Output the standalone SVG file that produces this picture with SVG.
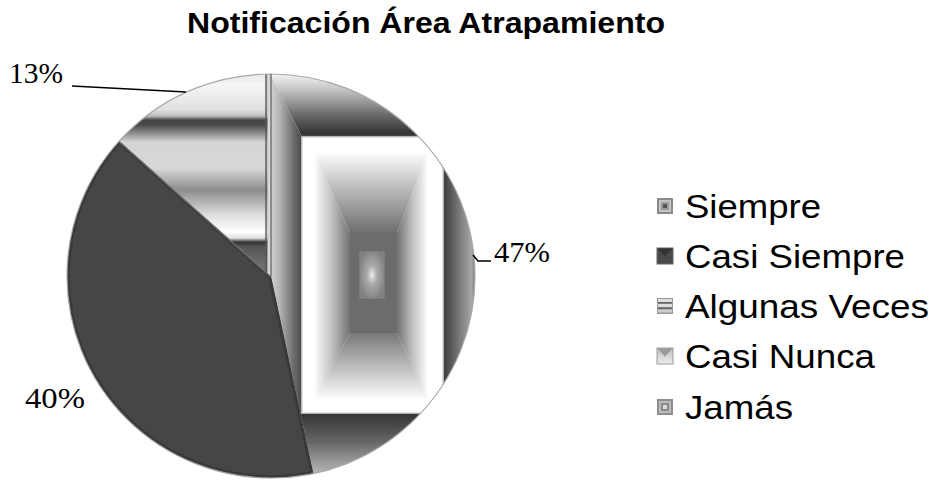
<svg xmlns="http://www.w3.org/2000/svg" width="937" height="481" viewBox="0 0 937 481">
<style>
.title{font-family:"Liberation Sans",Arial,sans-serif;font-weight:bold;font-size:30px;fill:#000}
.leg{font-family:"Liberation Sans",Arial,sans-serif;font-size:34px;fill:#000}
.pct{font-family:"Liberation Serif","Times New Roman",serif;font-size:29px;fill:#000}
.lead{fill:none;stroke:#000;stroke-width:1.5}
</style>
<defs>
<clipPath id="cSiempre"><path d="M271,276 L271,74 A204,202 0 0 1 313.4,473.6 Z"/></clipPath>
<clipPath id="cCasi"><path d="M271,276 L313.4,473.6 A204,202 0 0 1 119.4,140.8 Z"/></clipPath>
<clipPath id="cAlg"><path d="M271,276 L119.4,140.8 A204,202 0 0 1 271,74 Z"/></clipPath>
<linearGradient id="gTop" gradientUnits="userSpaceOnUse" x1="0" y1="74" x2="0" y2="137">
<stop offset="0" stop-color="#f2f2f2"/><stop offset="0.25" stop-color="#c4c4c4"/><stop offset="0.65" stop-color="#6a6a6a"/><stop offset="0.95" stop-color="#333"/><stop offset="1" stop-color="#555"/></linearGradient>
<linearGradient id="gLeft" gradientUnits="userSpaceOnUse" x1="270" y1="0" x2="302" y2="0">
<stop offset="0" stop-color="#d6d6d6"/><stop offset="0.3" stop-color="#b4b4b4"/><stop offset="0.75" stop-color="#6a6a6a"/><stop offset="1" stop-color="#4a4a4a"/></linearGradient>
<linearGradient id="gRight" gradientUnits="userSpaceOnUse" x1="443" y1="0" x2="475" y2="0">
<stop offset="0" stop-color="#3a3a3a"/><stop offset="0.5" stop-color="#777"/><stop offset="0.9" stop-color="#a8a8a8"/><stop offset="1" stop-color="#777"/></linearGradient>
<linearGradient id="gBot" gradientUnits="userSpaceOnUse" x1="0" y1="413" x2="0" y2="477">
<stop offset="0" stop-color="#333"/><stop offset="0.45" stop-color="#666"/><stop offset="1" stop-color="#c0c0c0"/></linearGradient>
<linearGradient id="pTop" gradientUnits="userSpaceOnUse" x1="0" y1="152" x2="0" y2="233">
<stop offset="0" stop-color="#fff"/><stop offset="0.5" stop-color="#b4b4b4"/><stop offset="1" stop-color="#6e6e6e"/></linearGradient>
<linearGradient id="pBot" gradientUnits="userSpaceOnUse" x1="0" y1="400" x2="0" y2="333">
<stop offset="0" stop-color="#fff"/><stop offset="0.5" stop-color="#bcbcbc"/><stop offset="1" stop-color="#787878"/></linearGradient>
<linearGradient id="pLeft" gradientUnits="userSpaceOnUse" x1="314" y1="0" x2="350" y2="0">
<stop offset="0" stop-color="#fff"/><stop offset="0.5" stop-color="#c0c0c0"/><stop offset="1" stop-color="#727272"/></linearGradient>
<linearGradient id="pRight" gradientUnits="userSpaceOnUse" x1="428" y1="0" x2="397" y2="0">
<stop offset="0" stop-color="#fff"/><stop offset="0.5" stop-color="#c0c0c0"/><stop offset="1" stop-color="#727272"/></linearGradient>
<radialGradient id="pCen" cx="0.5" cy="0.5" r="0.6">
<stop offset="0" stop-color="#eee"/><stop offset="0.35" stop-color="#aaa"/><stop offset="1" stop-color="#7c7c7c"/></radialGradient>
<linearGradient id="gAlg" gradientUnits="userSpaceOnUse" x1="0" y1="74" x2="0" y2="277">
<stop offset="0" stop-color="#e8e8e8"/><stop offset="0.054" stop-color="#f6f6f6"/><stop offset="0.177" stop-color="#e0e0e0"/><stop offset="0.207" stop-color="#bdbdbd"/><stop offset="0.227" stop-color="#444"/><stop offset="0.251" stop-color="#4a4a4a"/><stop offset="0.3" stop-color="#9a9a9a"/><stop offset="0.335" stop-color="#d4d4d4"/><stop offset="0.463" stop-color="#d8d8d8"/><stop offset="0.522" stop-color="#b0b0b0"/><stop offset="0.571" stop-color="#8c8c8c"/><stop offset="0.601" stop-color="#a0a0a0"/><stop offset="0.695" stop-color="#dedede"/><stop offset="0.778" stop-color="#fff"/><stop offset="0.808" stop-color="#e0e0e0"/><stop offset="0.828" stop-color="#333"/><stop offset="0.852" stop-color="#555"/><stop offset="0.926" stop-color="#6a6a6a"/><stop offset="1" stop-color="#777"/></linearGradient>
<linearGradient id="gNunca" x1="0" y1="0" x2="0" y2="1">
<stop offset="0" stop-color="#bbb"/><stop offset="1" stop-color="#eee"/></linearGradient>
</defs>

<g id="title"><text class="title" x="187" y="33" textLength="478" lengthAdjust="spacingAndGlyphs">Notificación Área Atrapamiento</text></g>

<g id="slice-siempre" clip-path="url(#cSiempre)">
<polygon points="270,74 475,74 443,137 302,137" fill="url(#gTop)"/>
<polygon points="270,74 302,137 302,413 270,477" fill="url(#gLeft)"/>
<polygon points="475,74 443,137 443,413 475,477" fill="url(#gRight)"/>
<polygon points="270,477 475,477 443,413 302,413" fill="url(#gBot)"/>
<rect x="302" y="137" width="141" height="276" fill="#fff" stroke="#d8d8d8" stroke-width="1.5"/>
<polygon points="314,152 428,152 397,233 350,233" fill="url(#pTop)"/>
<polygon points="314,400 428,400 397,333 350,333" fill="url(#pBot)"/>
<polygon points="314,152 350,233 350,333 314,400" fill="url(#pLeft)"/>
<polygon points="428,152 397,233 397,333 428,400" fill="url(#pRight)"/>
<rect x="350" y="233" width="47" height="100" fill="#6c6c6c"/>
<rect x="360" y="252" width="24" height="46" fill="url(#pCen)" stroke="#8a8a8a" stroke-width="1"/>
</g>

<g id="slice-casi-siempre" clip-path="url(#cCasi)">
<path d="M271,276 L313.4,473.6 A204,202 0 0 1 119.4,140.8 Z" fill="#464646" stroke="#3a3a3a" stroke-width="6"/>
<path d="M271,276 L119.4,140.8" stroke="#6a6a6a" stroke-width="3" fill="none"/>
</g>

<g id="slice-algunas-veces" clip-path="url(#cAlg)">
<rect x="115" y="70" width="160" height="210" fill="url(#gAlg)"/>
<rect x="265" y="70" width="2.5" height="210" fill="#555" opacity="0.7"/>
<rect x="267.5" y="70" width="4" height="210" fill="#d8d8d8"/>
</g>

<g id="pie-rim">
<ellipse cx="271" cy="276" rx="204" ry="202" fill="none" stroke="#a8a8a8" stroke-width="1.2"/>
<path d="M271,276 L271,74" stroke="#444" stroke-width="1"/>
</g>

<g id="connectors">
<polyline class="lead" points="72,86 186,92"/>
<polyline class="lead" points="473,255 478,261 491,261"/>
</g>

<g id="label-13"><text class="pct" x="9" y="83" textLength="54" lengthAdjust="spacingAndGlyphs">13%</text></g>
<g id="label-47"><text class="pct" x="494" y="262" textLength="56" lengthAdjust="spacingAndGlyphs">47%</text></g>
<g id="label-40"><text class="pct" x="25" y="408" textLength="60" lengthAdjust="spacingAndGlyphs">40%</text></g>

<g id="legend-siempre">
<rect x="657" y="198" width="16" height="16" fill="#8a8a8a"/>
<rect x="659" y="200" width="12" height="12" fill="#c4c4c4"/>
<rect x="661" y="202" width="8" height="8" fill="#9a9a9a"/>
<rect x="663" y="204" width="4" height="4" fill="#555"/>
<text class="leg" x="685" y="218" textLength="136" lengthAdjust="spacingAndGlyphs">Siempre</text>
</g>
<g id="legend-casi-siempre">
<rect x="657" y="248" width="16" height="16" fill="#4a4a4a" stroke="#666" stroke-width="1"/>
<polygon points="657.5,248.5 672.5,248.5 665,256.5" fill="#333"/>
<text class="leg" x="685" y="268" textLength="220" lengthAdjust="spacingAndGlyphs">Casi Siempre</text>
</g>
<g id="legend-algunas-veces">
<rect x="657" y="298" width="16" height="16" fill="#999"/>
<rect x="658" y="299" width="14" height="3" fill="#ddd"/>
<rect x="658" y="302" width="14" height="1.5" fill="#666"/>
<rect x="658" y="304" width="14" height="3" fill="#ddd"/>
<rect x="658" y="307.5" width="14" height="1.5" fill="#666"/>
<rect x="658" y="309.5" width="14" height="3" fill="#ccc"/>
<text class="leg" x="685" y="318" textLength="244" lengthAdjust="spacingAndGlyphs">Algunas Veces</text>
</g>
<g id="legend-casi-nunca">
<rect x="657" y="348" width="16" height="16" fill="url(#gNunca)" stroke="#999" stroke-width="1"/>
<polygon points="657.5,348.5 672.5,348.5 665,356.5" fill="#9a9a9a"/>
<text class="leg" x="685" y="368" textLength="190" lengthAdjust="spacingAndGlyphs">Casi Nunca</text>
</g>
<g id="legend-jamas">
<rect x="657" y="399" width="16" height="16" fill="#8e8e8e"/>
<rect x="659" y="401" width="12" height="12" fill="#bcbcbc"/>
<rect x="661" y="403" width="8" height="8" fill="#8a8a8a"/>
<rect x="663" y="405" width="4" height="4" fill="#ddd"/>
<text class="leg" x="685" y="419" textLength="108" lengthAdjust="spacingAndGlyphs">Jamás</text>
</g>
</svg>
